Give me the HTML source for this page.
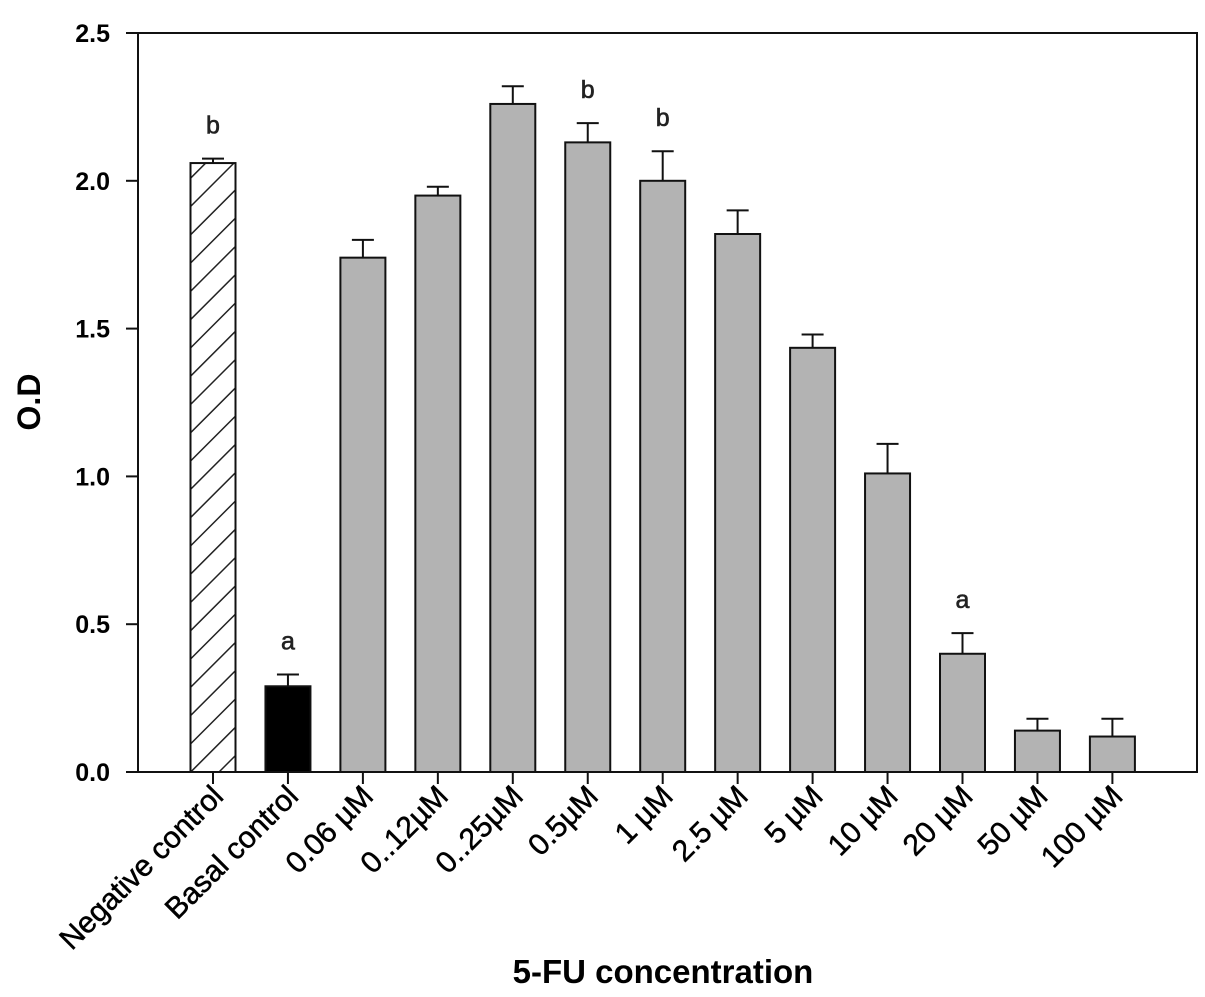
<!DOCTYPE html>
<html><head><meta charset="utf-8"><style>
body{margin:0;background:#fff}
svg{display:block;font-family:"Liberation Sans",Arial,sans-serif}
</style></head><body>
<svg id="c" width="1205" height="997">
<defs><pattern id="hatch" patternUnits="userSpaceOnUse" width="20" height="20" patternTransform="rotate(45)"><line x1="0" y1="0" x2="0" y2="20" stroke="#222" stroke-width="3"/></pattern></defs>
</svg>
<script>
const categories=["Negative control","Basal control","0.06 µM","0..12µM","0..25µM","0.5µM","1 µM","2.5 µM","5 µM","10 µM","20 µM","50 µM","100 µM"];
const values=[2.06,0.29,1.74,1.95,2.26,2.13,2.00,1.82,1.435,1.01,0.40,0.14,0.12];
const errors=[0.015,0.04,0.06,0.03,0.06,0.065,0.10,0.08,0.045,0.10,0.07,0.04,0.06];
const letters=["b","a","","","","b","b","","","","a","",""];
const yTicks=[0,0.5,1.0,1.5,2.0,2.5];
const yTickLabels=["0.0","0.5","1.0","1.5","2.0","2.5"];
const NS="http://www.w3.org/2000/svg";
const svg=document.getElementById('c');
const L=138,R=1197,T=33,B=772;
const y=v=>B-(B-T)*v/2.5;
const x=i=>213+i*74.95;
function mk(t,a,p){const e=document.createElementNS(NS,t);for(const k in a)e.setAttribute(k,a[k]);(p||svg).appendChild(e);return e;}
values.forEach((v,i)=>{
  const cx=x(i),w=45;
  const fill=i==0?"url(#hatch)":i==1?"#000":"#b3b3b3";
  const r=mk('rect',{x:cx-w/2,y:y(v),width:w,height:B-y(v),fill:fill,stroke:"#111","stroke-width":2});
  
  
  const et=y(v+errors[i]);
  const e=mk('path',{d:`M${cx} ${y(v)}V${et}M${cx-11} ${et}H${cx+11}`,stroke:"#111","stroke-width":2,fill:"none"});
  
  
  if(letters[i]){
    const t=mk('text',{x:cx,y:et-25,"text-anchor":"middle","font-size":25,"fill":"#222","stroke":"#222","stroke-width":0.6});
    t.textContent=letters[i];
    
    
  }
  mk('line',{x1:cx,y1:B,x2:cx,y2:B+12,stroke:"#111","stroke-width":2});
  const lb=mk('text',{x:cx+12,y:B+26,"text-anchor":"end","font-size":30,"stroke":"#000","stroke-width":0.5,transform:`rotate(-45 ${cx+12} ${B+26})`});
  lb.textContent=categories[i];
  
  
});
const f=mk('rect',{x:L,y:T,width:R-L,height:B-T,fill:"none",stroke:"#111","stroke-width":2});


yTicks.forEach((v,i)=>{
  mk('line',{x1:L-12,y1:y(v),x2:L,y2:y(v),stroke:"#111","stroke-width":2});
  const t=mk('text',{x:L-28,y:y(v)+9,"text-anchor":"end","font-size":25,"font-weight":"bold"});
  t.textContent=yTickLabels[i];
  
  
});
const yt=mk('text',{x:40,y:402,"text-anchor":"middle","font-size":32,"font-weight":"bold",transform:"rotate(-90 40 402)"});
yt.textContent="O.D";


const xt=mk('text',{x:663,y:983,"text-anchor":"middle","font-size":33,"font-weight":"bold"});
xt.textContent="5-FU concentration";


</script>
</body></html>
